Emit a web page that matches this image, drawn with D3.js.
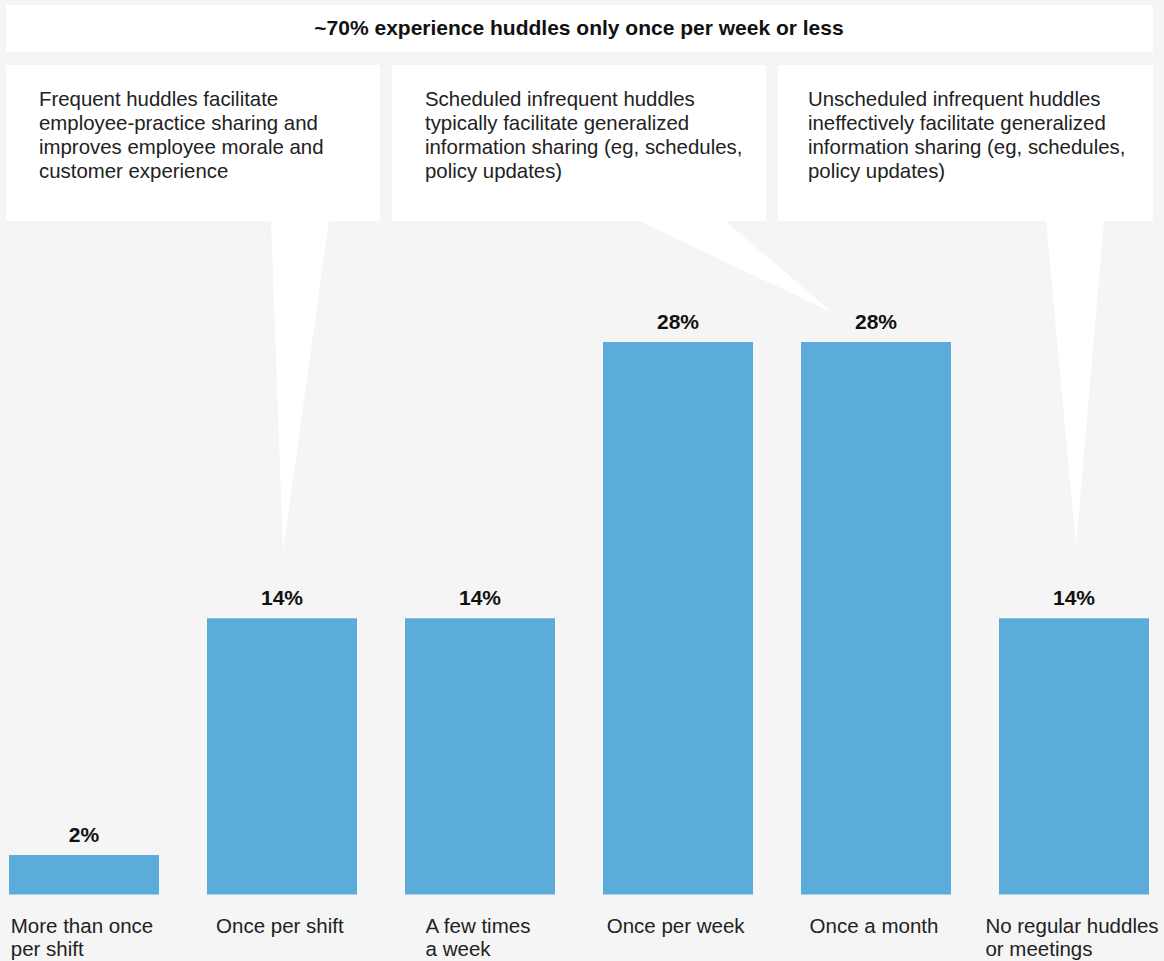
<!DOCTYPE html>
<html>
<head>
<meta charset="utf-8">
<script src="https://cdn.jsdelivr.net/npm/d3@7"></script>
<style>
  html, body { margin: 0; padding: 0; background: #f5f5f5; }
  svg { display: block; font-family: "Liberation Sans", Arial, Helvetica, sans-serif; }
</style>
</head>
<body>
<svg id="chart" width="1164" height="961"></svg>
<script>
// Huddle frequency survey
const categories = [
  ["More than once", "per shift"],
  ["Once per shift"],
  ["A few times", "a week"],
  ["Once per week"],
  ["Once a month"],
  ["No regular huddles", "or meetings"]
];
const values = [2, 14, 14, 28, 28, 14];
const valueLabels = ["2%", "14%", "14%", "28%", "28%", "14%"];

const headline = "~70% experience huddles only once per week or less";
const calloutTexts = [
  ["Frequent huddles facilitate", "employee-practice sharing and", "improves employee morale and", "customer experience"],
  ["Scheduled infrequent huddles", "typically facilitate generalized", "information sharing (eg, schedules,", "policy updates)"],
  ["Unscheduled infrequent huddles", "ineffectively facilitate generalized", "information sharing (eg, schedules,", "policy updates)"]
];
// which bar each callout points to
const calloutTargets = [1, 4, 5];

const svg = d3.select("#chart");
const W = 1164, H = 961;

svg.append("rect").attr("width", W).attr("height", H).attr("fill", "#f5f5f5");

const x = d3.scaleBand()
  .domain(d3.range(categories.length))
  .range([9, 1149])
  .paddingInner(48 / 198)
  .paddingOuter(0);

const baseY = 894.5;
const y = d3.scaleLinear().domain([0, 28]).range([baseY, 342]);

// headline banner
svg.append("rect").attr("x", 6).attr("y", 5).attr("width", 1147).attr("height", 47).attr("fill", "#fff");
svg.append("text")
  .attr("x", 579).attr("y", 35)
  .attr("text-anchor", "middle")
  .attr("font-size", 21).attr("font-weight", "bold").attr("fill", "#111")
  .text(headline);

// callout boxes
const boxes = [
  { x: 6, w: 374, pad: 33 },
  { x: 392, w: 374, pad: 33 },
  { x: 778, w: 375, pad: 30 }
];
const boxTop = 65, boxBottom = 221;

// pointer wedges (drawn first so the boxes sit over their bases)
const pointers = [
  { b0: 271, b1: 329, tipX: x(calloutTargets[0]) + x.bandwidth() / 2 + 1, tipY: 552 },
  { b0: 637, b1: 724, tipX: x(calloutTargets[1]) + x.bandwidth() / 2 - 43, tipY: 313 },
  { b0: 1046, b1: 1104, tipX: x(calloutTargets[2]) + x.bandwidth() / 2 + 2, tipY: 547 }
];
svg.append("g").selectAll("path").data(pointers).join("path")
  .attr("d", p => `M${p.b0},${boxBottom - 1}L${p.b1},${boxBottom - 1}L${p.tipX},${p.tipY}Z`)
  .attr("fill", "#fff");

const cg = svg.append("g").selectAll("g").data(boxes).join("g");
cg.append("rect")
  .attr("x", d => d.x).attr("y", boxTop)
  .attr("width", d => d.w).attr("height", boxBottom - boxTop)
  .attr("fill", "#fff");
cg.append("text")
  .attr("font-size", 20.4).attr("fill", "#222")
  .selectAll("tspan").data((d, i) => calloutTexts[i].map(t => ({ t, x: d.x + d.pad })))
  .join("tspan")
  .attr("x", d => d.x)
  .attr("y", (d, i) => 106 + i * 24)
  .text(d => d.t);

// bars
svg.append("g").selectAll("rect").data(values).join("rect")
  .attr("x", (d, i) => x(i))
  .attr("y", d => y(d))
  .attr("width", x.bandwidth())
  .attr("height", d => baseY - y(d))
  .attr("fill", "#5cacdb");

// value labels
svg.append("g").selectAll("text").data(values).join("text")
  .attr("x", (d, i) => x(i) + x.bandwidth() / 2)
  .attr("y", d => y(d) - 13)
  .attr("text-anchor", "middle")
  .attr("font-size", 21).attr("font-weight", "bold").attr("fill", "#111")
  .text((d, i) => valueLabels[i]);

// category labels: lines left-aligned, block centred under each bar
const labelG = svg.append("g").attr("font-size", 20.5).attr("fill", "#222");
categories.forEach((lines, i) => {
  const t = labelG.append("text");
  lines.forEach((line, j) => {
    t.append("tspan").attr("x", 0).attr("y", 933 + j * 23).text(line);
  });
  const bw = t.node().getBBox().width;
  const cx = x(i) + x.bandwidth() / 2;
  t.attr("transform", `translate(${Math.min(Math.max(cx - bw / 2 - 2, 9), W - 4 - bw)},0)`);
});
</script>
</body>
</html>
